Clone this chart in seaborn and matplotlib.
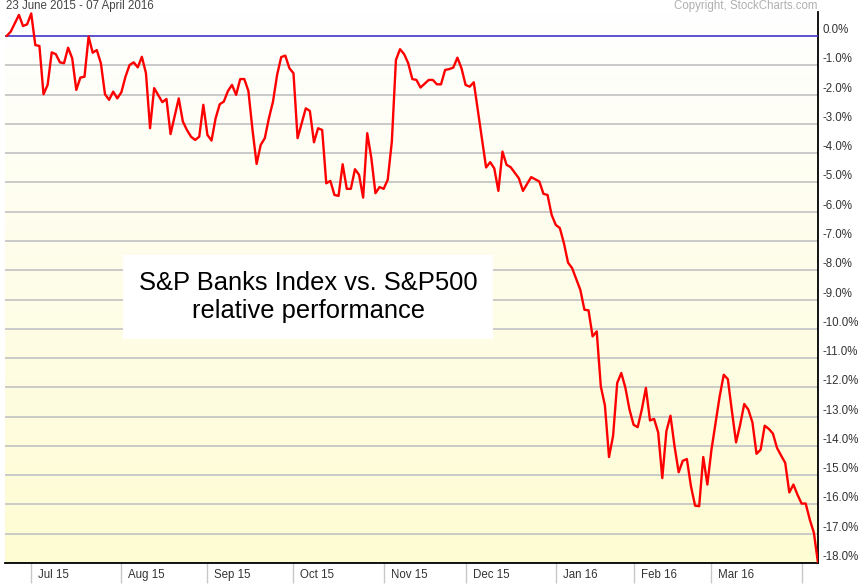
import numpy as np
import pandas as pd
import matplotlib.pyplot as plt
import matplotlib.transforms as mtransforms
import seaborn as sns

# trading-day index since 23 June 2015 and relative performance (%)
days = [0, 1, 3, 4, 5, 6, 7, 8, 9, 10, 11, 12, 13, 14, 15, 16, 17, 18, 19, 20,
        21, 22, 23, 24, 25, 26, 27, 28, 29, 30, 31, 32, 33, 34, 35, 36, 38, 39, 40, 42,
        43, 44, 45, 46, 47, 48, 49, 50, 51, 52, 53, 54, 55, 56, 57, 58, 59, 60, 61, 62,
        63, 64, 65, 66, 67, 68, 69, 70, 71, 72, 73, 74, 75, 76, 77, 78, 79, 80, 81, 82,
        83, 84, 85, 86, 87, 88, 89, 90, 91, 92, 93, 94, 95, 96, 97, 98, 99, 100, 101, 103,
        104, 105, 106, 107, 108, 109, 110, 111, 112, 113, 114, 117, 118, 119, 120, 121, 122, 123, 125, 126,
        128, 130, 131, 132, 133, 134, 135, 136, 137, 138, 140, 141, 142, 143, 144, 145, 146, 147, 148, 149,
        150, 151, 152, 153, 154, 155, 156, 157, 158, 159, 160, 161, 162, 163, 164, 165, 166, 167, 168, 169,
        170, 171, 172, 174, 175, 176, 177, 178, 179, 180, 181, 182, 183, 184, 185, 186, 187, 188, 189, 190,
        191, 192, 193, 194, 195, 196, 197, 198]
rel_perf = [0.0, 0.15, 0.72, 0.34, 0.40, 0.77, -0.31, -0.34, -1.99, -1.67, -0.56, -0.62, -0.90, -0.93, -0.40, -0.76, -1.84, -1.42, -1.39, -0.02,
            -0.57, -0.48, -0.93, -1.99, -2.18, -1.90, -2.13, -1.92, -1.39, -0.99, -0.90, -1.07, -0.71, -1.27, -3.15, -1.78, -2.26, -2.15, -3.35, -2.13,
            -2.92, -3.21, -3.44, -3.55, -3.44, -2.35, -3.38, -3.57, -2.81, -2.33, -2.24, -1.88, -1.67, -2.01, -1.47, -1.47, -1.88, -3.21, -4.37, -3.72,
            -3.49, -2.81, -2.24, -1.33, -0.72, -0.67, -1.10, -1.27, -3.49, -2.98, -2.47, -2.56, -3.63, -3.15, -3.21, -5.03, -4.95, -5.43, -5.46, -4.38,
            -5.22, -5.22, -4.55, -4.74, -5.52, -3.32, -4.17, -5.37, -5.16, -5.22, -4.91, -3.61, -0.82, -0.45, -0.62, -0.93, -1.47, -1.50, -1.76, -1.50,
            -1.50, -1.65, -1.65, -1.16, -1.13, -1.08, -0.74, -1.10, -1.67, -1.73, -1.58, -4.49, -4.31, -4.52, -5.29, -3.95, -4.40, -4.48, -4.86, -5.29,
            -4.82, -4.97, -5.39, -5.43, -6.11, -6.45, -6.56, -7.08, -7.74, -7.93, -8.67, -9.35, -9.37, -10.26, -10.09, -11.97, -12.62, -14.38, -13.65, -11.85,
            -11.51, -12.02, -12.76, -13.28, -13.36, -12.76, -12.02, -13.13, -13.08, -13.54, -15.10, -13.50, -12.97, -14.02, -14.90, -14.51, -14.45, -15.38, -16.04, -16.06,
            -14.38, -15.32, -14.13, -12.31, -11.57, -11.72, -12.82, -13.88, -13.28, -12.57, -12.76, -13.20, -14.27, -14.13, -13.31, -13.42, -13.58, -14.07, -14.33, -14.58,
            -15.59, -15.32, -15.67, -15.97, -15.97, -16.52, -16.97, -18.00]

# first trading day of each month (index) and labels
month_starts = [6, 28, 49, 70, 92, 112, 134, 153, 172, 194]
month_labels = ['Jul 15', 'Aug 15', 'Sep 15', 'Oct 15', 'Nov 15', 'Dec 15', 'Jan 16', 'Feb 16', 'Mar 16', '']
y_ticks = list(range(0, -19, -1))
y_labels = [f'{v:.1f}%' for v in y_ticks]

df = pd.DataFrame({'day': days, 'perf': rel_perf})

sns.set_style('white')
plt.rcParams['font.family'] = ['Liberation Sans', 'DejaVu Sans']

fig = plt.figure(figsize=(8.68, 5.88), dpi=100)
ax = fig.add_axes([5 / 868, 25 / 588, 813 / 868, 551 / 588])

# background gradient white -> pale yellow
grad = np.linspace(0, 1, 256)[:, None]
top = np.array([1.0, 1.0, 1.0])
bot = np.array([254, 252, 210]) / 255
img = top * (1 - grad[..., None]) + bot * grad[..., None]
ax.imshow(img, extent=[0, 1, 0, 1], transform=ax.transAxes, aspect='auto', zorder=0)

sns.lineplot(data=df, x='day', y='perf', ax=ax, color='#ff0000', lw=1.7,
             estimator=None, sort=False, zorder=4)
ax.axhline(0, color='#4b3fd0', lw=1.2, zorder=3)

ax.set_xlim(-0.4, 198)
ax.set_ylim(-18.0, 0.82)
ax.set_xlabel('')
ax.set_ylabel('')

# y axis on the right, labels just above gridlines
ax.yaxis.tick_right()
ax.set_yticks(y_ticks)
ax.set_yticklabels(y_labels)
ax.tick_params(axis='y', length=0, pad=3, labelsize=8.3, labelcolor='#333333')
plt.setp(ax.get_yticklabels(), va='bottom')
ax.yaxis.grid(True, color='#c6c6c6', lw=1.3, zorder=1)

# x axis: month separators with labels to the right
ax.set_xticks(month_starts)
ax.set_xticklabels(month_labels)
ax.tick_params(axis='x', bottom=True, length=14.5, width=1, color='#c8c8c8', direction='out',
               pad=-10, labelsize=8.3, labelcolor='#333333')
offset = mtransforms.ScaledTranslation(7 / 100, 0, fig.dpi_scale_trans)
for lab in ax.get_xticklabels():
    lab.set_ha('left')
    lab.set_va('top')
    lab.set_transform(lab.get_transform() + offset)

for side in ['left', 'top']:
    ax.spines[side].set_visible(False)
for side in ['right', 'bottom']:
    ax.spines[side].set_visible(True)
    ax.spines[side].set_color('black')
    ax.spines[side].set_linewidth(1.3)

ax.text(0.373, 0.483, 'S&P Banks Index vs. S&P500\nrelative performance',
        transform=ax.transAxes, ha='center', va='center', multialignment='center',
        fontsize=18.4, color='black', linespacing=1.2, zorder=5,
        bbox=dict(boxstyle='square,pad=0.62', fc='white', ec='none'))

fig.text(6 / 868, 1 - 6 / 588, '23 June 2015 - 07 April 2016', ha='left', va='center',
         fontsize=8.3, color='#444444')
fig.text(818 / 868, 1 - 6 / 588, 'Copyright, StockCharts.com', ha='right', va='center',
         fontsize=8.3, color='#b0b0b0')

fig.savefig('out.png', dpi=100)
